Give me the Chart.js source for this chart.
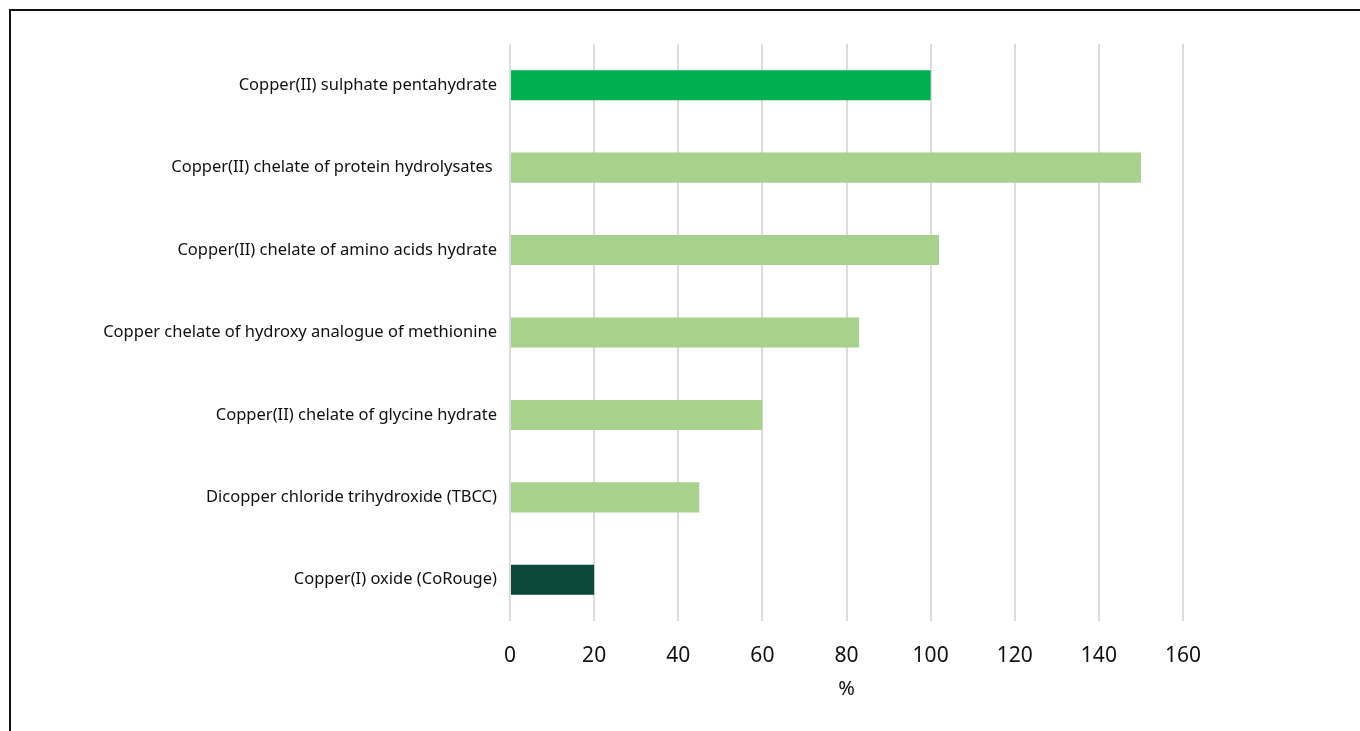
<!DOCTYPE html>
<html>
<head>
<meta charset="utf-8">
<script src="https://cdn.jsdelivr.net/npm/chart.js@4"></script>
<style>
  html, body { margin: 0; padding: 0; background: #fff; overflow: hidden; }
  #frame {
    position: absolute; left: 9px; top: 9px; width: 1360px; height: 740px;
    border: 2px solid #111; box-sizing: border-box;
  }
  #wrap { position: absolute; left: 0; top: 0; width: 1360px; height: 731px; }
</style>
</head>
<body>
<div id="frame"></div>
<div id="wrap"><canvas id="grafico"></canvas></div>
<script>
// productos y eficacia relativa (%)
const productos = [
    'Copper(II) sulphate pentahydrate',
    'Copper(II) chelate of protein hydrolysates ',
    'Copper(II) chelate of amino acids hydrate',
    'Copper chelate of hydroxy analogue of methionine',
    'Copper(II) chelate of glycine hydrate',
    'Dicopper chloride trihydroxide (TBCC)',
    'Copper(I) oxide (CoRouge)'
];
const valores = [100, 150, 102, 83, 60, 45, 20];
const colores = ['#00b050', '#a9d18e', '#a9d18e', '#a9d18e', '#a9d18e', '#a9d18e', '#0b4a3a'];
const ticksX = [0, 20, 40, 60, 80, 100, 120, 140, 160];

const ctx = document.getElementById('grafico');

new Chart(ctx, {
    type: 'bar',
    data: {
        labels: productos,
        datasets: [{
            data: valores,
            backgroundColor: colores,
            borderWidth: 0,
            barPercentage: 0.5,
            categoryPercentage: 0.73
        }]
    },
    options: {
        indexAxis: 'y',
        responsive: true,
        maintainAspectRatio: false,
        animation: false,
        layout: { padding: { left: 0, right: 177, top: 44, bottom: 26 } },
        plugins: {
            legend: { display: false },
            tooltip: { enabled: false }
        },
        scales: {
            x: {
                min: 0,
                max: 160,
                afterBuildTicks: function(scale) {
                    scale.ticks = ticksX.map(v => ({ value: v }));
                },
                afterFit: function(scale) { scale.height = 84; },
                grid: { color: '#dcdcdc', lineWidth: 2, drawTicks: false },
                border: { display: false },
                ticks: {
                    color: '#111',
                    padding: 22,
                    font: { family: 'Noto Sans', size: 21 }
                },
                title: {
                    display: true,
                    text: '%',
                    color: '#111',
                    padding: { top: 10 },
                    font: { family: 'Noto Sans', size: 20 }
                }
            },
            y: {
                afterFit: function(scale) { scale.width = 510; },
                grid: { display: false },
                border: { display: false },
                ticks: {
                    color: '#111',
                    padding: 5,
                    font: { family: 'Noto Sans', size: 16.5 }
                }
            }
        }
    }
});
</script>
</body>
</html>
